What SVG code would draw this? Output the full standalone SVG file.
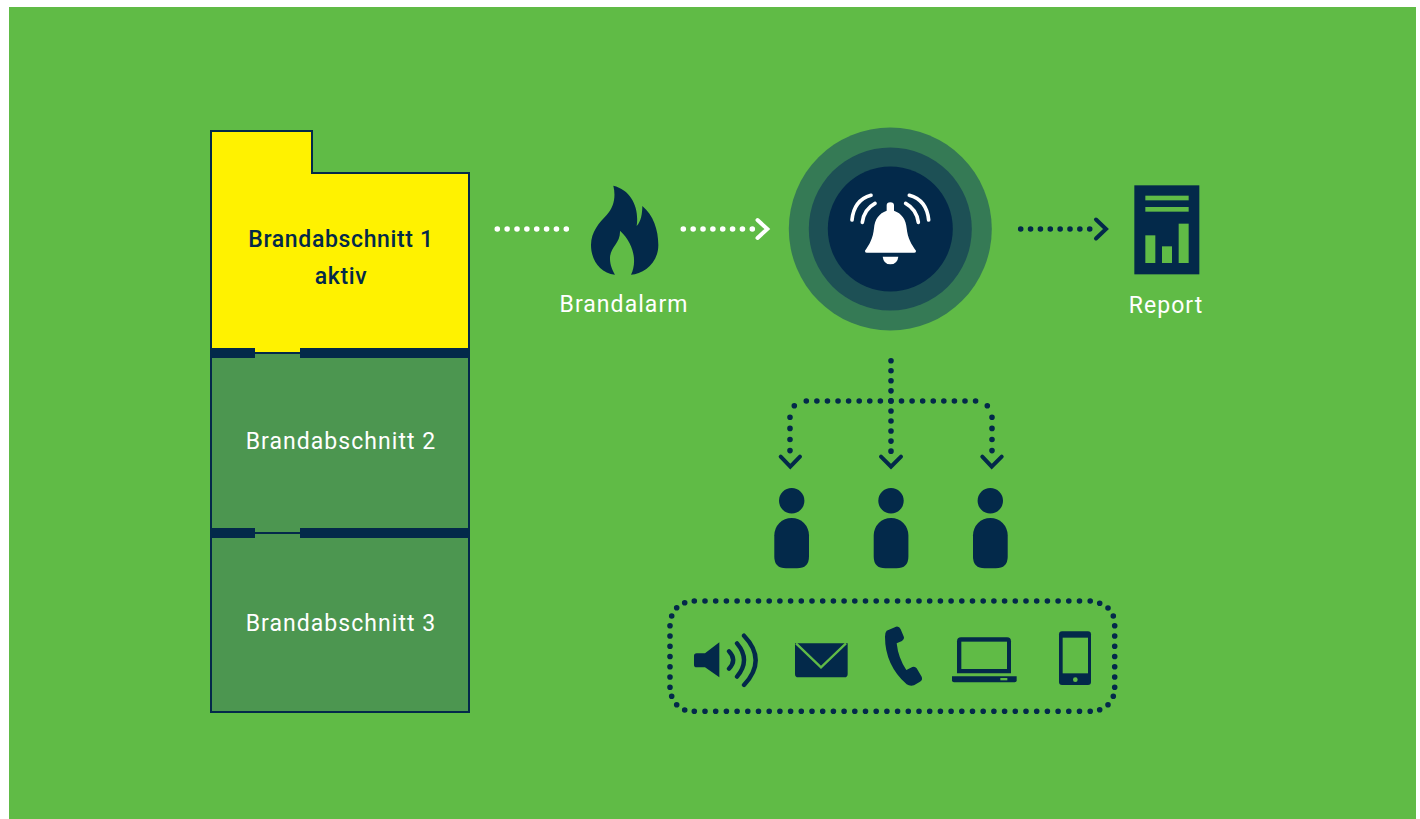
<svg xmlns="http://www.w3.org/2000/svg" width="1420" height="819" viewBox="0 0 1420 819">
<style>
.lbl{font-family:"Roboto","Liberation Sans",sans-serif;font-size:23px;font-weight:400;letter-spacing:1.05px;text-anchor:middle;fill:#fff}
.lbd{font-family:"Roboto","Liberation Sans",sans-serif;font-size:23px;font-weight:500;letter-spacing:.65px;text-anchor:middle;fill:#03294a}
.navy{fill:#03294a}
.gr{fill:#60bb46}
.wall{stroke:#03294a;stroke-width:2;fill:#4c9650}
.dw{stroke:#fff;fill:none;stroke-width:5.6;stroke-linecap:round}
.dn{stroke:#03294a;fill:none;stroke-width:5.6;stroke-linecap:round}
.chw{stroke:#fff;fill:none;stroke-width:4;stroke-linecap:round;stroke-linejoin:miter}
.chn{stroke:#03294a;fill:none;stroke-width:4;stroke-linecap:round;stroke-linejoin:miter}
.arc{stroke:#fff;fill:none;stroke-width:11;stroke-linecap:round}
.sp{stroke:#03294a;fill:none;stroke-width:13;stroke-linecap:round}
</style>
<rect x="0" y="0" width="1420" height="819" fill="#fff"/>
<rect x="9" y="7" width="1407" height="812" class="gr"/>

<g id="section-2"><rect class="wall" x="211" y="353" width="258" height="180"/>
<text class="lbl" x="341" y="449">Brandabschnitt 2</text></g>
<g id="section-3"><rect class="wall" x="211" y="533" width="258" height="179"/>
<text class="lbl" x="341" y="630.500">Brandabschnitt 3</text></g>
<g id="section-1"><path d="M211 131H312V173H469V353H211Z" fill="#fff200" stroke="#03294a" stroke-width="2"/>
<text class="lbd" x="341" y="246.500">Brandabschnitt 1</text>
<text class="lbd" x="341" y="283.500">aktiv</text></g>
<g id="walls" class="navy">
<rect x="210" y="348" width="45" height="10"/><rect x="300" y="348" width="170" height="10"/>
<rect x="210" y="528" width="45" height="10"/><rect x="300" y="528" width="170" height="10"/>
</g>

<g id="flame" transform="translate(480 120) scale(.33333)">
<path class="navy" d="M400 197C455 210 478 265 470 318C483 305 487 280 487 258C520 285 535 330 535 375C535 430 490 462 453 464C470 430 466 375 420 332C422 370 392 380 390 412C389 435 398 452 405 464C360 460 333 420 333 375C333 335 358 308 380 285C402 260 408 230 400 197Z"/>
</g>
<text class="lbl" x="624" y="312">Brandalarm</text>

<g id="alarm">
<circle cx="890.300" cy="229" r="101.500" fill="#357a55"/>
<circle cx="890.300" cy="229" r="81.500" fill="#1d5055"/>
<circle cx="890.300" cy="229" r="62.500" class="navy"/>
<g transform="translate(780 120) scale(.33333)">
<path fill="#fff" d="M320 272V256Q320 247 331 247Q342 247 342 256V272C365 280 378 298 380 325C383 355 395 375 408 392Q409 398 403 398H260Q254 398 255 392C268 375 279 355 282 325C284 298 297 280 320 272Z"/>
<path fill="#fff" d="M308 410H355Q352 433 331 433Q311 433 308 410Z"/>
<path class="arc" d="M216 300Q222 240 273 226M247 307Q252 268 285 250M446 300Q440 240 388 226M415 307Q410 268 377 250"/>
</g>
</g>

<g id="report" transform="translate(1000 170) scale(.33333)">
<rect class="navy" x="403" y="46" width="195" height="267"/>
<g class="gr"><rect x="436" y="77" width="130" height="14"/><rect x="436" y="111" width="130" height="14"/>
<rect x="436" y="196" width="30" height="83"/><rect x="486" y="229" width="30" height="50"/><rect x="536" y="161" width="30" height="118"/></g>
</g>
<text class="lbl" x="1166" y="312.500">Report</text>

<g id="person-1" class="navy"><circle cx="791.700" cy="500.700" r="12.700"/><path d="M774.300 535.300A17.350 17.350 0 0 1 809 535.300V556.500Q809 568.300 797 568.300H786Q774.300 568.300 774.300 556.500Z"/></g>
<g id="person-2" class="navy"><circle cx="891" cy="500.700" r="12.700"/><path d="M873.700 535.300A17.350 17.350 0 0 1 908.400 535.300V556.500Q908.400 568.300 896.400 568.300H885.400Q873.700 568.300 873.700 556.500Z"/></g>
<g id="person-3" class="navy"><circle cx="990.300" cy="500.700" r="12.700"/><path d="M973 535.300A17.350 17.350 0 0 1 1007.700 535.300V556.500Q1007.700 568.300 995.700 568.300H984.700Q973 568.300 973 556.500Z"/></g>

<g id="speaker" transform="translate(660 590) scale(.33333)">
<path class="navy" d="M110 190H135L178 157V262L135 232H110Q102 232 102 224V198Q102 190 110 190Z"/>
<path class="sp" d="M207 184Q232 210 207 236M231 160Q273 210 231 260M252 137Q322 210 252 285"/>
</g>
<g id="mail" transform="translate(660 590) scale(.33333)">
<path class="navy" d="M405 160H563V252Q563 262 553 262H415Q405 262 405 252Z"/>
<path d="M408 160L483 232L558 160" fill="none" stroke="#60bb46" stroke-width="7"/>
</g>
<g id="phone" transform="translate(880 590) scale(.33333)">
<path class="navy" d="M20 122L48 110Q58 108 62 118L72 142Q73 150 66 153L50 160Q55 205 79 240L97 231Q105 228 110 235L125 260Q129 270 120 275L102 286Q90 290 80 283Q15 225 15 140Q15 127 20 122Z"/>
</g>
<g id="laptop" transform="translate(880 590) scale(.33333)">
<path class="navy" d="M243 142H381Q393 142 393 154V250H231V154Q231 142 243 142Z"/>
<rect class="gr" x="244" y="155" width="137" height="82"/>
<path class="navy" d="M216 259H410V271Q410 277 404 277H222Q216 277 216 271Z"/>
<rect class="gr" x="361" y="264" width="21" height="7"/>
</g>
<g id="mobile" transform="translate(880 590) scale(.33333)">
<rect class="navy" x="537" y="124" width="96" height="161" rx="9"/>
<rect class="gr" x="548" y="143" width="76" height="107"/>
<circle class="gr" cx="586" cy="269" r="7"/>
</g>

<g id="connectors">
<path class="dw" d="M497.300 229H570" stroke-dasharray="0 9.860"/>
<path class="dw" d="M683.300 229H756" stroke-dasharray="0 9.860"/>
<path class="chw" d="M757.500 220L767.300 229L757.500 238"/>
<path class="dn" d="M1020.700 229H1093" stroke-dasharray="0 9.860"/>
<path class="chn" d="M1096 219.500L1106 229L1096 238.500"/>
<path class="dn" d="M891 360.700V455" stroke-dasharray="0 10.050"/>
<path class="dn" d="M806.300 401H978" stroke-dasharray="0 10.580"/>
<path class="dn" d="M790 417.300V455" stroke-dasharray="0 11.100"/>
<path class="dn" d="M992 417.300V455" stroke-dasharray="0 11.100"/>
<path class="dn" d="M794.300 405.700h0M987.300 405.700h0"/>
<path class="chn" d="M780.700 456.700L790.300 466.700L800 456.700M881 456.700L891 466.700L901 456.700M982.300 456.700L991.700 466.700L1001.700 456.700"/>
<g id="channel-frame">
<path class="dn" d="M694.300 601H1092" stroke-dasharray="0 10.700"/>
<path class="dn" d="M694.300 711.300H1092" stroke-dasharray="0 10.700"/>
<path class="dn" d="M670 625.700V688" stroke-dasharray="0 10.270"/>
<path class="dn" d="M1114.700 625.700V688" stroke-dasharray="0 10.270"/>
<path class="dn" d="M684.700 602.700h0M676.700 607.700h0M671.700 616h0M671.700 696.300h0M676.700 704.700h0M684.700 710h0M1099.700 603.300h0M1108 608h0M1113.300 616h0M1113.300 696.300h0M1108 704.700h0M1099.700 709.700h0"/>
</g>
</g>
</svg>
